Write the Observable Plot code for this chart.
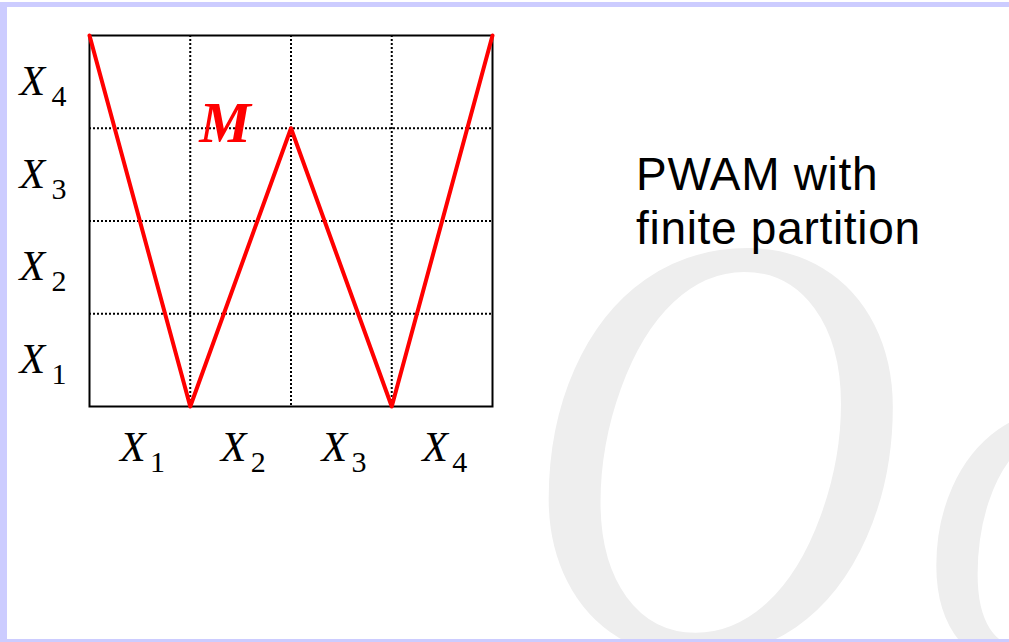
<!DOCTYPE html>
<html>
<head>
<meta charset="utf-8">
<script src="https://cdn.jsdelivr.net/npm/d3@7"></script>
<script src="https://cdn.jsdelivr.net/npm/@observablehq/plot@0.6"></script>
<style>
  html, body { margin: 0; padding: 0; background: #ffffff; }
  #page { position: relative; width: 1009px; height: 642px; overflow: hidden; background: #ffffff; }
  #wm { position: absolute; left: 0; top: 0; }
  #frame { position: absolute; left: 0; top: 2px; width: 1002px; height: 632px;
           border-top: 5px solid #ccccff; border-left: 7px solid #ccccff; border-bottom: 3px solid #ccccff; }
  #chart { position: absolute; left: 0; top: 0; }
  #note { position: absolute; left: 636px; top: 147px; font-family: "Liberation Sans", Arial, sans-serif;
          font-size: 46px; line-height: 54px; letter-spacing: 0.7px; color: #000; white-space: nowrap; }
</style>
</head>
<body>
<div id="page">
  <svg id="wm" width="1009" height="642" xmlns="http://www.w3.org/2000/svg">
    <g font-family="Liberation Serif, serif" font-style="italic" fill="#eeeeee">
      <text transform="translate(522,652) scale(0.87,1)" font-size="610">O</text>
      <text transform="translate(922,664) scale(0.89,1)" font-size="540">o</text>
    </g>
  </svg>
  <div id="frame"></div>
  <div id="chart"></div>
  <div id="note">PWAM with<br>finite partition</div>
</div>
<script>
// Piecewise affine map M on [0,4]: breakpoints and values
const mapX = [0, 1, 2, 3, 4];
const mapY = [4, 0, 3, 0, 4];
// partition boundaries
const gridLines = [1, 2, 3];
// partition cells X1..X4
const cellCenters = [0.5, 1.5, 2.5, 3.5];
const cellBase = ["X", "X", "X", "X"];
const cellSub = ["1", "2", "3", "4"];
const mapLabel = ["M"];

const pts = mapX.map((x, i) => ({x, y: mapY[i]}));
const cells = cellCenters.map((c, i) => ({c, base: cellBase[i], sub: cellSub[i]}));

const serif = "'Liberation Serif', 'Times New Roman', serif";

const chart = Plot.plot({
  width: 1009,
  height: 642,
  marginLeft: 89,
  marginRight: 517,
  marginTop: 35,
  marginBottom: 236,
  x: {domain: [0, 4], axis: null},
  y: {domain: [0, 4], axis: null},
  style: {background: "transparent", overflow: "visible"},
  marks: [
    Plot.ruleX(gridLines, {stroke: "#000", strokeWidth: 2, strokeDasharray: "2,2"}),
    Plot.ruleY(gridLines, {stroke: "#000", strokeWidth: 2, strokeDasharray: "2,2"}),
    Plot.frame({stroke: "#000", strokeWidth: 2}),
    Plot.line(pts, {x: "x", y: "y", stroke: "#ff0000", strokeWidth: 4}),
    // bottom cell labels
    Plot.text(cells, {x: "c", y: () => 0, text: "base", textAnchor: "start", lineAnchor: "bottom",
      dx: -20, dy: 54, fontFamily: serif, fontStyle: "italic", fontSize: 42, fill: "#000"}),
    Plot.text(cells, {x: "c", y: () => 0, text: "sub", textAnchor: "start", lineAnchor: "bottom",
      dx: 10, dy: 65, fontFamily: serif, fontSize: 30, fill: "#000"}),
    // left cell labels
    Plot.text(cells, {x: () => 0, y: "c", text: "base", textAnchor: "start", lineAnchor: "bottom",
      dx: -70, dy: 13, fontFamily: serif, fontStyle: "italic", fontSize: 42, fill: "#000"}),
    Plot.text(cells, {x: () => 0, y: "c", text: "sub", textAnchor: "start", lineAnchor: "bottom",
      dx: -38, dy: 24, fontFamily: serif, fontSize: 30, fill: "#000"}),
    // map label
    Plot.text(mapLabel, {x: () => 1, y: () => 3, text: d => d, textAnchor: "start", lineAnchor: "bottom",
      dx: 9, dy: 14, fontFamily: serif, fontStyle: "italic", fontWeight: "bold", fontSize: 58, fill: "#ff0000"})
  ]
});
document.getElementById("chart").appendChild(chart);
</script>
</body>
</html>
